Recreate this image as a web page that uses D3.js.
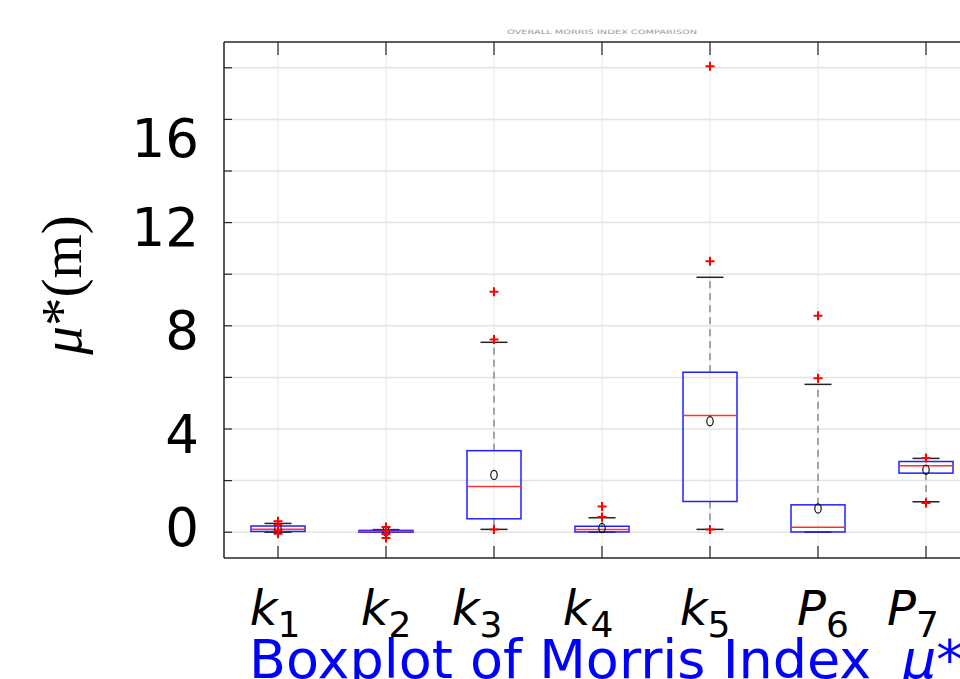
<!DOCTYPE html>
<html>
<head>
<meta charset="utf-8">
<script src="https://cdn.jsdelivr.net/npm/d3@7"></script>
<style>
  body { margin: 0; background: #fff; }
</style>
</head>
<body>
<div id="chart"></div>
<script>
// parameters
var labelBase = ["k", "k", "k", "k", "k", "P", "P"];
var labelSub = ["1", "2", "3", "4", "5", "6", "7"];

// box stats per parameter
var q1 = [0.03, 0.00, 0.52, 0.01, 1.19, 0.01, 2.29];
var median = [0.11, 0.03, 1.77, 0.10, 4.52, 0.19, 2.58];
var q3 = [0.24, 0.07, 3.16, 0.23, 6.20, 1.06, 2.74];
var whiskerLow = [0.00, 0.00, 0.11, 0.00, 0.11, 0.00, 1.18];
var whiskerHigh = [0.34, 0.10, 7.36, 0.56, 9.88, 5.73, 2.86];
var means = [0.14, 0.03, 2.22, 0.16, 4.30, 0.92, 2.42];
var outliers = [
  [0.42, 0.30, 0.05, -0.06],
  [0.20, 0.07, -0.07, -0.22],
  [9.32, 7.47, 0.10],
  [1.00, 0.59],
  [18.06, 10.50, 0.10],
  [8.39, 5.97],
  [2.88, 1.13]
];

var yTicks = [0, 2, 4, 6, 8, 10, 12, 14, 16, 18];
var yLabels = ["0", "4", "8", "12", "16"];
var yLabelAt = [0.22, 3.81, 7.87, 11.83, 15.3];

var W = 960, H = 679;
var mLeft = 224, mTop = 42, mBottom = 558, mRight = 980;
// label nudges (px) so the tick labels sit as in the original
var xLabelShift = [-3, 0, -17, -14, -5, 5, -13];

var svg = d3.select("#chart").append("svg")
  .attr("width", W)
  .attr("height", H);

var x = d3.scaleLinear().domain([0.5, 7.5]).range([mLeft, mRight]);
var y = d3.scaleLinear().domain([-1, 19]).range([mBottom, mTop]);

var idx = d3.range(labelBase.length);

// grid
svg.selectAll(".hgrid").data(yTicks).enter().append("line")
  .attr("x1", mLeft).attr("x2", mRight)
  .attr("y1", function(d) { return y(d); })
  .attr("y2", function(d) { return y(d); })
  .attr("stroke", "#e3e3e3").attr("stroke-width", 1.5);

svg.selectAll(".vgrid").data(idx).enter().append("line")
  .attr("x1", function(i) { return x(i + 1); })
  .attr("x2", function(i) { return x(i + 1); })
  .attr("y1", mTop).attr("y2", mBottom)
  .attr("stroke", "#e6e6e6").attr("stroke-width", 1);

// tiny title at the top
svg.append("text")
  .attr("x", 507).attr("y", 34)
  .attr("font-family", "DejaVu Sans")
  .attr("font-size", 6)
  .attr("fill", "#999")
  .attr("textLength", 190)
  .attr("lengthAdjust", "spacingAndGlyphs")
  .text("OVERALL MORRIS INDEX COMPARISON");

// boxes, whiskers, means, outliers
var g = svg.append("g");
idx.forEach(function(i) {
  var cx = x(i + 1);
  g.append("line")
    .attr("x1", cx).attr("x2", cx)
    .attr("y1", y(q3[i])).attr("y2", y(whiskerHigh[i]))
    .attr("stroke", "#555").attr("stroke-dasharray", "7,5").attr("stroke-width", 1);
  g.append("line")
    .attr("x1", cx).attr("x2", cx)
    .attr("y1", y(q1[i])).attr("y2", y(whiskerLow[i]))
    .attr("stroke", "#555").attr("stroke-dasharray", "7,5").attr("stroke-width", 1);
  [whiskerHigh[i], whiskerLow[i]].forEach(function(v) {
    g.append("line")
      .attr("x1", x(i + 0.875)).attr("x2", x(i + 1.125))
      .attr("y1", y(v)).attr("y2", y(v))
      .attr("stroke", "#222").attr("stroke-width", 1.5);
  });
  g.append("rect")
    .attr("x", x(i + 0.75)).attr("width", x(i + 1.25) - x(i + 0.75))
    .attr("y", y(q3[i])).attr("height", Math.max(1, y(q1[i]) - y(q3[i])))
    .attr("fill", "none").attr("stroke", "#2020ff").attr("stroke-width", 1.5);
  g.append("line")
    .attr("x1", x(i + 0.75)).attr("x2", x(i + 1.25))
    .attr("y1", y(median[i])).attr("y2", y(median[i]))
    .attr("stroke", "#ff3030").attr("stroke-width", 1.5);
  g.append("ellipse")
    .attr("cx", cx).attr("cy", y(means[i]))
    .attr("rx", 3.2).attr("ry", 4.6)
    .attr("fill", "none").attr("stroke", "#111").attr("stroke-width", 1.2);
  outliers[i].forEach(function(v) {
    var py = y(v);
    g.append("path")
      .attr("d", "M" + (cx - 4.5) + "," + py + "H" + (cx + 4.5) + "M" + cx + "," + (py - 4.5) + "V" + (py + 4.5))
      .attr("stroke", "#ff0000").attr("stroke-width", 2).attr("fill", "none");
  });
});

// axes box
svg.append("line").attr("x1", mLeft).attr("x2", mLeft).attr("y1", mTop).attr("y2", mBottom)
  .attr("stroke", "#262626").attr("stroke-width", 1.5);
svg.append("line").attr("x1", mLeft).attr("x2", mRight).attr("y1", mTop).attr("y2", mTop)
  .attr("stroke", "#262626").attr("stroke-width", 1.5);
svg.append("line").attr("x1", mLeft).attr("x2", mRight).attr("y1", mBottom).attr("y2", mBottom)
  .attr("stroke", "#262626").attr("stroke-width", 1.5);

// inward ticks
svg.selectAll(".ytick").data(yTicks).enter().append("line")
  .attr("x1", mLeft).attr("x2", mLeft + 8)
  .attr("y1", function(d) { return y(d); })
  .attr("y2", function(d) { return y(d); })
  .attr("stroke", "#262626").attr("stroke-width", 1.2);
svg.selectAll(".xtickb").data(idx).enter().append("line")
  .attr("x1", function(i) { return x(i + 1); })
  .attr("x2", function(i) { return x(i + 1); })
  .attr("y1", mBottom).attr("y2", mBottom - 12)
  .attr("stroke", "#262626").attr("stroke-width", 1.2);
svg.selectAll(".xtickt").data(idx).enter().append("line")
  .attr("x1", function(i) { return x(i + 1); })
  .attr("x2", function(i) { return x(i + 1); })
  .attr("y1", mTop).attr("y2", mTop + 13)
  .attr("stroke", "#262626").attr("stroke-width", 1.2);

// y tick labels
svg.selectAll(".ylab").data(yLabels).enter().append("text")
  .attr("x", 199)
  .attr("y", function(d, i) { return y(yLabelAt[i]) + 19.5; })
  .attr("text-anchor", "end")
  .attr("font-family", "DejaVu Sans")
  .attr("font-size", 53)
  .attr("fill", "#000")
  .text(function(d) { return d; });

// x tick labels: italic letter + subscript
idx.forEach(function(i) {
  var t = svg.append("text")
    .attr("x", x(i + 1) + xLabelShift[i])
    .attr("y", 625)
    .attr("text-anchor", "middle")
    .attr("font-family", "DejaVu Sans")
    .attr("fill", "#000");
  t.append("tspan").attr("font-size", 48).attr("font-style", "italic").text(labelBase[i]);
  t.append("tspan").attr("font-size", 36).attr("dy", 12).text(labelSub[i]);
});

// y axis label
var yl = svg.append("text")
  .attr("transform", "translate(81,285) rotate(-90)")
  .attr("text-anchor", "middle")
  .attr("font-family", "Liberation Serif")
  .attr("font-size", 57)
  .attr("fill", "#000");
yl.append("tspan").attr("font-style", "italic").text("\u03bc");
yl.append("tspan").text("*(m)");

// bottom title (blue, partly cut off by the window)
svg.append("text")
  .attr("x", 249).attr("y", 678)
  .attr("font-family", "DejaVu Sans")
  .attr("font-size", 54)
  .attr("fill", "#0000ff")
  .text("Boxplot of Morris Index");
svg.append("text")
  .attr("x", 902).attr("y", 678)
  .attr("font-family", "DejaVu Sans")
  .attr("font-size", 54)
  .attr("font-style", "italic")
  .attr("fill", "#0000ff")
  .text("\u03bc*");
</script>
</body>
</html>
